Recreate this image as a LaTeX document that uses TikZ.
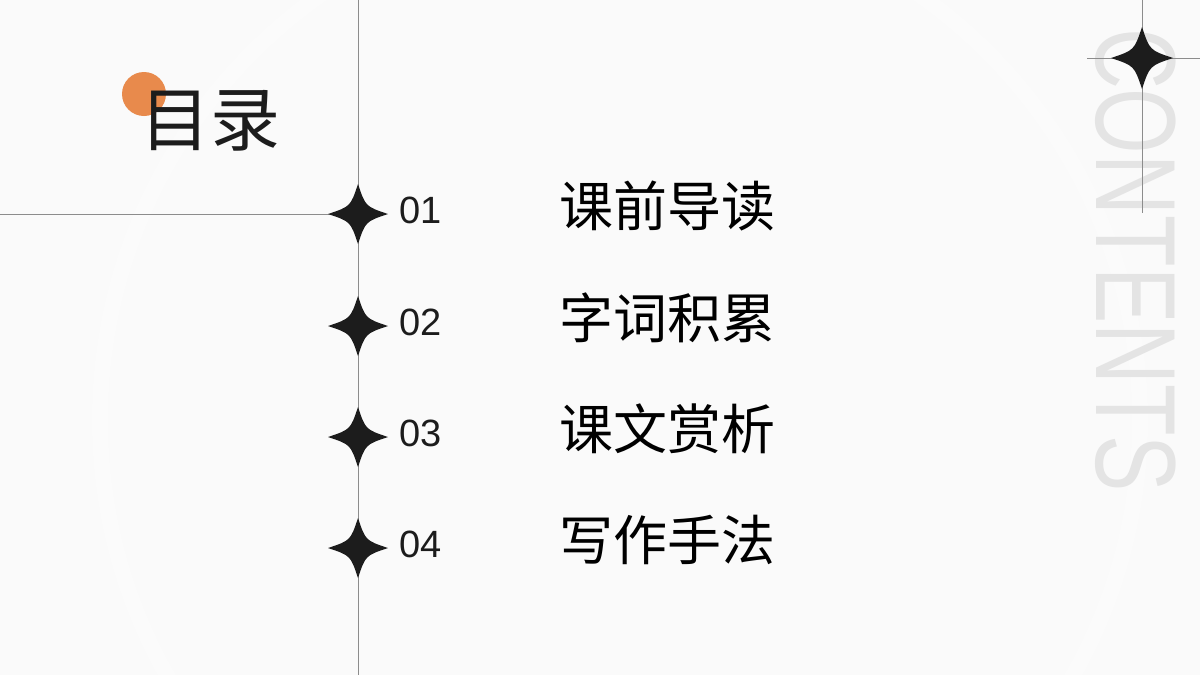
\documentclass[tikz,border=0pt]{standalone}
\usepackage{fontspec}
\setmainfont{Liberation Sans}
\newfontfamily\cjk{Noto Sans CJK SC}
\definecolor{inkdark}{HTML}{1C1C1C}
\definecolor{dotorange}{HTML}{E88A4C}
\definecolor{ghost}{HTML}{E4E4E4}
\definecolor{paper}{HTML}{FAFAFA}
\begin{document}
\begin{tikzpicture}[x=0.5pt,y=-0.5pt]
    % --- styles ---
    \tikzset{
      thinline/.style={draw=black!45,line width=0.5pt},
      sparkle/.style={fill=inkdark},
      numlabel/.style={anchor=west,font=\fontsize{19}{21}\selectfont,text=inkdark},
      itemlabel/.style={anchor=west,font=\cjk\fontsize{27}{30}\selectfont,text=black},
    }
    \newcommand{\sparkshape}[3]{% centre x, centre y, half size
      \fill[sparkle] (#1,#2-#3) .. controls (#1+0.25*#3,#2-0.25*#3) .. (#1+#3,#2)
        .. controls (#1+0.25*#3,#2+0.25*#3) .. (#1,#2+#3)
        .. controls (#1-0.25*#3,#2+0.25*#3) .. (#1-#3,#2)
        .. controls (#1-0.25*#3,#2-0.25*#3) .. cycle;}

    % background
    \fill[paper] (0,0) rectangle (1200,675);
    \useasboundingbox (0,0) rectangle (1200,675);
    \begin{scope}
      \clip (0,0) rectangle (1200,675);
      \draw[black!2,line width=12pt] (620,420) circle (430);
      \draw[black!1.5,line width=8pt] (620,420) circle (520);
    \end{scope}

    % ghost word on the right
    \node[rotate=-90,text=ghost,font=\fontsize{57}{60}\selectfont,xscale=0.74]
      (ghostword) at (1136,260) {CONTENTS};

    % guide lines
    \coordinate (spinetop) at (358,0);
    \coordinate (spinebot) at (358,675);
    \coordinate (armleft) at (0,214);
    \coordinate (corner) at (358,214);
    \draw[thinline] (spinetop) -- (spinebot);
    \draw[thinline] (armleft) -- (corner);
    \coordinate (rtop) at (1142,0);
    \coordinate (rbot) at (1142,213);
    \coordinate (rleft) at (1087,58);
    \coordinate (rright) at (1200,58);
    \draw[thinline] (rtop) -- (rbot);
    \draw[thinline] (rleft) -- (rright);
    \sparkshape{1142}{58}{31}

    % title
    \fill[dotorange] (144,94) circle (22);
    \node[font=\cjk\fontsize{35}{38}\selectfont,text=inkdark] (title) at (210,121) {目录};

    % menu entries
    \foreach \y/\num/\txt in {214/01/课前导读,326/02/字词积累,437/03/课文赏析,548/04/写作手法}{
      \sparkshape{358}{\y}{30}
      \node[numlabel] (num\num) at (392,\y-4) {\num};
      \node[itemlabel] (item\num) at (552,\y-8) {\txt};
    }
  \end{tikzpicture}
\end{document}
